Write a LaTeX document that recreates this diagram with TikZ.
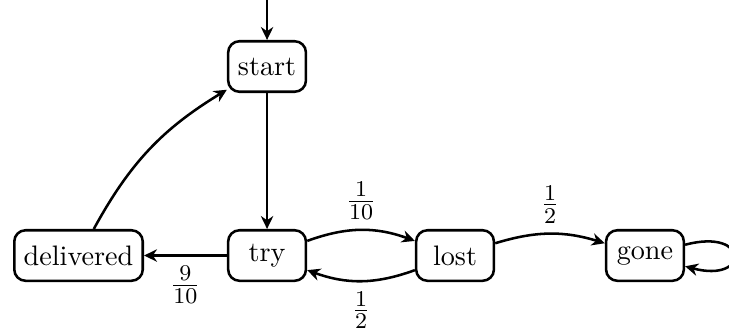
\documentclass[tikz,border=0pt]{standalone}
\usetikzlibrary{arrows.meta}
\begin{document}
\begin{tikzpicture}[
  state/.style={draw, line width=0.9pt, rounded corners=4pt, minimum width=0.97cm, minimum height=0.63cm},
  edge/.style={line width=0.9pt, -{Stealth[length=4.6pt,width=4.4pt]}},
  lbl/.style={font=\fontsize{10.95}{13.6}\selectfont},
]
\useasboundingbox (0,0) rectangle (9.09,-4.127);
\node[state] (start) at (3.33,-0.829) {start};
\node[state] (try) at (3.33,-3.186) {try};
\node[state] (delivered) at (0.979,-3.186) {delivered};
\node[state] (lost) at (5.674,-3.186) {lost};
\node[state] (gone) at (8.042,-3.186) {gone};
\coordinate (init) at (3.33,0);
\draw[edge] (init) -- (start);
\draw[edge] (start) -- (try);
\draw[edge] (try) -- node[below, lbl] {$\frac{9}{10}$} (delivered);
\draw[edge] (delivered) to[bend left=15] (start);
\draw[edge] (try) to[bend left=20] node[above, lbl] {$\frac{1}{10}$} (lost);
\draw[edge] (lost) to[bend left=20] node[below, lbl] {$\frac{1}{2}$} (try);
\draw[edge] (lost) to[bend left=17] node[above, lbl] {$\frac{1}{2}$} (gone);
\draw[edge] (gone) to[loop right] (gone);
\end{tikzpicture}
\end{document}
